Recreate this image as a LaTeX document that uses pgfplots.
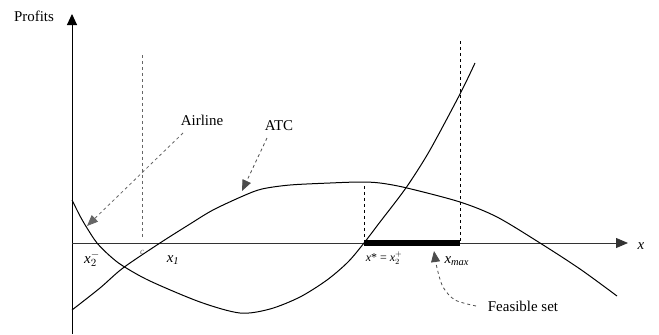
\documentclass[border=0pt]{standalone}
\usepackage{pgfplots}
\pgfplotsset{compat=1.18}
\usepackage{fontspec}
\setmainfont{Liberation Serif}
\usetikzlibrary{arrows.meta}
\tikzset{lbl/.style={font=\fontsize{15}{17}\selectfont}}
\begin{document}
\begin{tikzpicture}
\begin{axis}[
  width=659bp, height=334bp, scale only axis,
  xmin=0, xmax=659, ymin=0, ymax=334, y dir=reverse,
  hide axis, clip=false,
]
% invisible frame so the picture keeps its full size
\addplot[draw=none] coordinates {(0,0) (659,334)};
% axes
\addplot[black, line width=0.9pt, -{Triangle[length=11bp,width=10bp]}] coordinates {(72,334) (72,14)};
\addplot[black!80, line width=0.8pt, -{Triangle[length=12bp,width=10bp]}] coordinates {(72,243) (628,243)};
% dashed verticals
\addplot[black!60, dashed, line width=0.8pt] coordinates {(142,55) (142,237)};
\addplot[black, dashed, line width=0.6pt] coordinates {(364,186) (364,243)};
\addplot[black, dashed, line width=0.6pt] coordinates {(460,41) (460,243)};
% feasible set
\addplot[black, line width=6bp] coordinates {(364,243) (460,243)};
% Airline profit curve
\addplot[black, line width=1pt, smooth] coordinates {
  (72,200) (80,216) (87,228) (97,243) (110,256) (123,266) (150,281)
  (200,302) (240,313) (270,309) (300,297) (327,280) (348,262) (364,243)
  (380,222) (397,200) (410,182) (430,150) (460,94) (475,63)};
% ATC profit curve
\addplot[black, line width=1pt, smooth] coordinates {
  (72,310) (100,288) (123,268) (160,243) (190,224) (213,210) (243,196)
  (262,189) (290,185) (330,183) (360,182) (380,183) (407,188) (460,202)
  (497,217) (540,243) (580,269) (617,296)};
% annotation arrows
\addplot[black!60, dashed, line width=0.8pt, -{Triangle[length=11bp,width=9bp]}] coordinates {(183,133) (87,226)};
\addplot[black!70, dashed, line width=0.8pt, -{Triangle[length=11bp,width=9bp]}] coordinates {(267,138) (242,191)};
\addplot[black!70, dashed, line width=0.8pt, smooth, -{Triangle[length=11bp,width=9bp]}] coordinates {(476,306) (455,300) (443,287) (437,268) (434,251)};
% labels
\node[lbl] at (axis cs:34,16) {Profits};
\node[lbl] at (axis cs:202,120) {Airline};
\node[lbl] at (axis cs:279,126) {ATC};
\node[lbl] at (axis cs:523,306) {Feasible set};
\node[lbl] at (axis cs:641,246) {\textit{x}};
\node[font=\fontsize{9}{10}\selectfont, text=black!60] at (axis cs:142,252) {\textit{c}};
\node[lbl] at (axis cs:92,259) {\textit{x}$_{2}^{-}$};
\node[lbl] at (axis cs:173,260) {\textit{x}$_{\mathit{1}}$};
\node[font=\fontsize{12}{14}\selectfont] at (axis cs:384,258) {\textit{x}* = \textit{x}$_{2}^{+}$};
\node[lbl, anchor=west] at (axis cs:441,261) {\textit{x}$_{\mathit{max}}$};
\end{axis}
\end{tikzpicture}
\end{document}
